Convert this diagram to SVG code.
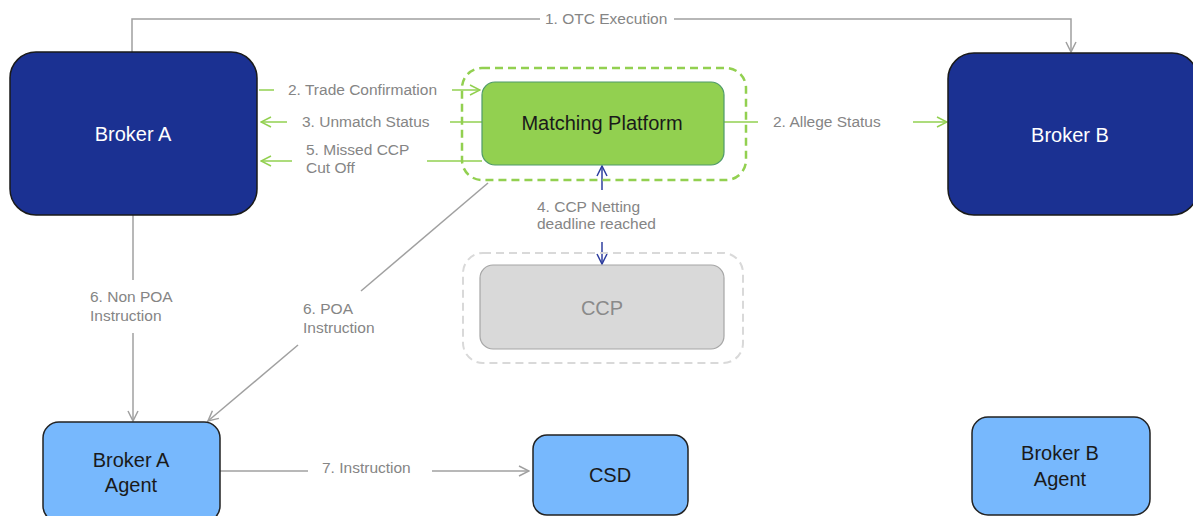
<svg xmlns="http://www.w3.org/2000/svg" width="1193" height="516" viewBox="0 0 1193 516">
<defs>
<marker id="ag" markerWidth="12" markerHeight="12" refX="11" refY="6" orient="auto" markerUnits="userSpaceOnUse"><path d="M1,1 L11,6 L1,11" fill="none" stroke="#a0a0a0" stroke-width="1.5"/></marker>
<marker id="agr" markerWidth="12" markerHeight="12" refX="11" refY="6" orient="auto" markerUnits="userSpaceOnUse"><path d="M1,1 L11,6 L1,11" fill="none" stroke="#92d050" stroke-width="1.5"/></marker>
<marker id="ab" markerWidth="12" markerHeight="12" refX="11" refY="6" orient="auto" markerUnits="userSpaceOnUse"><path d="M1,1 L11,6 L1,11" fill="none" stroke="#2f3f9f" stroke-width="1.5"/></marker>
</defs>
<style>
.lbl{font-family:"Liberation Sans",Arial,sans-serif;font-size:15.5px;fill:#858585}
.nt{font-family:"Liberation Sans",Arial,sans-serif;font-size:20px;text-anchor:middle}
.dark{fill:#1b3192;stroke:#1a1a1a;stroke-width:1.5}
.light{fill:#77b8fd;stroke:#222;stroke-width:1.5}
.g{stroke:#a0a0a0;stroke-width:1.5;fill:none}
.gr{stroke:#92d050;stroke-width:1.5;fill:none}
.bl{stroke:#2f3f9f;stroke-width:1.5;fill:none}
</style>
<rect width="1193" height="516" fill="#fff"/>
<g id="connectors">
<path class="g" d="M132,52 V19 H540"/>
<path class="g" d="M674,19 H1071 V52" marker-end="url(#ag)"/>
<text class="lbl" x="545" y="24">1. OTC Execution</text>
<path class="gr" d="M259,90 H274"/>
<path class="gr" d="M452,90 H480" marker-end="url(#agr)"/>
<text class="lbl" x="288" y="95">2. Trade Confirmation</text>
<path class="gr" d="M450,122 H482"/>
<path class="gr" d="M287,122 H261" marker-end="url(#agr)"/>
<text class="lbl" x="302" y="127">3. Unmatch Status</text>
<path class="gr" d="M427,161 H482"/>
<path class="gr" d="M292,161 H261" marker-end="url(#agr)"/>
<text class="lbl" x="306" y="155">5. Missed CCP</text>
<text class="lbl" x="306" y="173">Cut Off</text>
<path class="gr" d="M724,122 H758"/>
<path class="gr" d="M913,122 H947" marker-end="url(#agr)"/>
<text class="lbl" x="773" y="127">2. Allege Status</text>
<path class="bl" d="M602,190 V166" marker-end="url(#ab)"/>
<path class="bl" d="M602,242 V264" marker-end="url(#ab)"/>
<text class="lbl" x="537" y="212">4. CCP Netting</text>
<text class="lbl" x="537" y="229">deadline reached</text>
<path class="g" d="M133,215 V280"/>
<path class="g" d="M133,333 V421" marker-end="url(#ag)"/>
<text class="lbl" x="90" y="302">6. Non POA</text>
<text class="lbl" x="90" y="321">Instruction</text>
<path class="g" d="M488,183 L361,291"/>
<path class="g" d="M298,345 L208,421" marker-end="url(#ag)"/>
<text class="lbl" x="303" y="314">6. POA</text>
<text class="lbl" x="303" y="333">Instruction</text>
<path class="g" d="M220,471 H308"/>
<path class="g" d="M432,471 H529" marker-end="url(#ag)"/>
<text class="lbl" x="322" y="473">7. Instruction</text>
</g>
<g id="brokerA">
<rect class="dark" x="10" y="52" width="247" height="163" rx="26"/>
<text class="nt" x="133" y="141" fill="#fff">Broker A</text>
</g>
<g id="brokerB">
<rect class="dark" x="948" y="53" width="250" height="162" rx="26"/>
<text class="nt" x="1070" y="142" fill="#fff">Broker B</text>
</g>
<g id="matching">
<rect x="462" y="68" width="284" height="112" rx="20" fill="none" stroke="#92d050" stroke-width="2.5" stroke-dasharray="8 5"/>
<rect x="482" y="82" width="242" height="83" rx="13" fill="#92d050" stroke="#4f9a6a" stroke-width="1.2"/>
<text class="nt" x="602" y="130" fill="#1a1a1a">Matching Platform</text>
</g>
<g id="ccp">
<rect x="463" y="253" width="280" height="110" rx="20" fill="none" stroke="#d9d9d9" stroke-width="2" stroke-dasharray="8 5"/>
<rect x="480" y="265" width="244" height="84" rx="13" fill="#d9d9d9" stroke="#a6a6a6" stroke-width="1.2"/>
<text class="nt" x="602" y="315" fill="#8a8a8a" font-size="22">CCP</text>
</g>
<g id="brokerAAgent">
<rect class="light" x="43" y="422" width="177" height="100" rx="16"/>
<text class="nt" x="131" y="467" fill="#1a1a1a">Broker A</text>
<text class="nt" x="131" y="492" fill="#1a1a1a">Agent</text>
</g>
<g id="csd">
<rect class="light" x="533" y="435" width="155" height="80" rx="14"/>
<text class="nt" x="610" y="482" fill="#1a1a1a">CSD</text>
</g>
<g id="brokerBAgent">
<rect class="light" x="972" y="417" width="178" height="98" rx="16"/>
<text class="nt" x="1060" y="460" fill="#1a1a1a">Broker B</text>
<text class="nt" x="1060" y="486" fill="#1a1a1a">Agent</text>
</g>
</svg>
